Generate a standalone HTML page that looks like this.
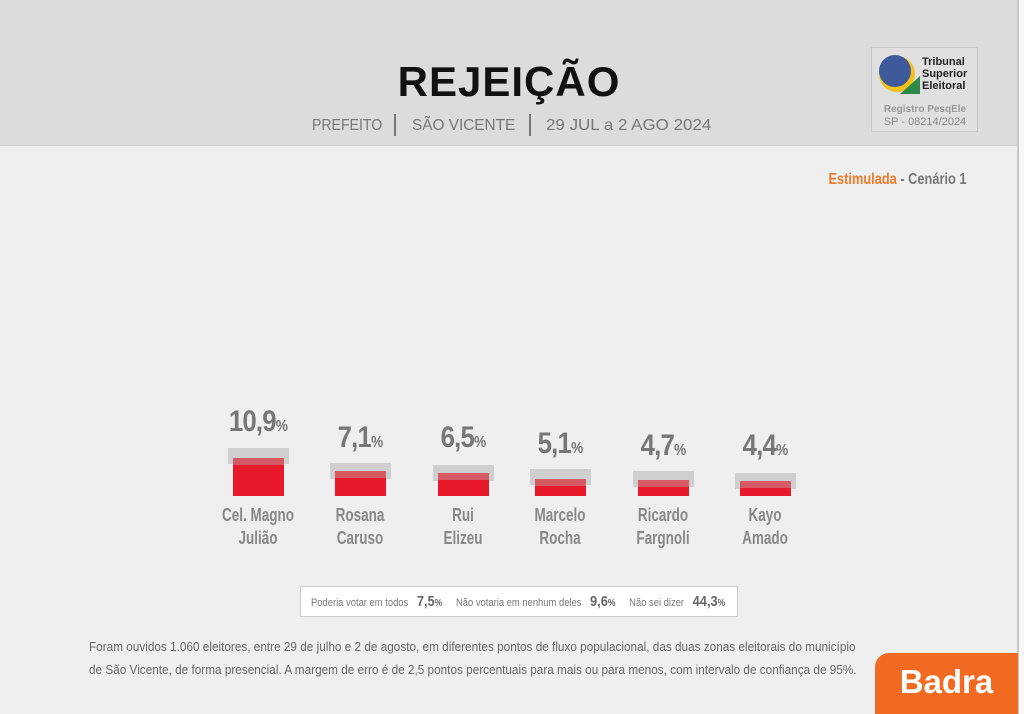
<!DOCTYPE html>
<html><head><meta charset="utf-8"><style>
*{margin:0;padding:0;box-sizing:border-box}
body{width:1024px;height:714px;background:#f8f8f8;position:relative;overflow:hidden;font-family:"Liberation Sans",sans-serif}
.abs{position:absolute}
.hdr{left:0;top:0;width:1018px;height:146px;background:#dcdcdc;border-bottom:1px solid #d0d0d0}
.main{left:0;top:146px;width:1018px;height:568px;background:#efefef}
.vline{left:1017px;top:0;width:2px;height:714px;background:#c8c8c8}
.title{left:0;width:1018px;top:58px;text-align:center;font:bold 42px "Liberation Sans",sans-serif;color:#111;letter-spacing:1px}
.sub{top:117px;font-size:16px;color:#777;transform-origin:left;white-space:nowrap}
.sep{top:114px;width:2px;height:22px;background:#777}
.gray{background:#cfcfcf;width:61px;height:16px}
.red{background:#e8192a;width:51px}
.redt{background:#d65a63;width:51px;height:7px}
.val{width:100px;text-align:center;color:#777;font-weight:bold;font-size:30px;letter-spacing:-1px;transform:scaleX(0.86)}
.val small{font-size:16px}
.nm{width:120px;text-align:center;color:#888;font-size:18px;line-height:23px;font-weight:bold;transform:scaleX(0.75)}
.foot{left:89px;font-size:13px;color:#666;white-space:nowrap;transform:scaleX(0.905);transform-origin:left}
</style></head><body>
<div class="abs hdr"></div>
<div class="abs main"></div>
<div class="abs vline"></div>
<div class="abs title">REJEIÇÃO</div>
<div class="abs sub" style="left:312px;transform:scaleX(0.88)">PREFEITO</div>
<div class="abs sep" style="left:394px"></div>
<div class="abs sub" style="left:412px;transform:scaleX(0.96)">SÃO VICENTE</div>
<div class="abs sep" style="left:529px"></div>
<div class="abs sub" style="left:546px;transform:scaleX(1.06)">29 JUL a 2 AGO 2024</div>

<div class="abs" style="left:871px;top:47px;width:107px;height:85px;border:1px solid #c8c8c8;background:#e0e0e0"></div>
<div class="abs" style="left:879px;top:56px;width:36px;height:36px;border-radius:50%;background:#f2c21a"></div>
<div class="abs" style="left:900px;top:76px;width:20px;height:18px;background:#2f8a4a;clip-path:polygon(100% 0,100% 100%,0 100%)"></div>
<div class="abs" style="left:879px;top:55px;width:32px;height:32px;border-radius:50%;background:#3f5a9a"></div>
<div class="abs" style="left:922px;top:56px;font:bold 11px/12px 'Liberation Sans',sans-serif;color:#222">Tribunal<br>Superior<br>Eleitoral</div>
<div class="abs" style="left:876px;top:104px;width:98px;text-align:center;font:bold 10px 'Liberation Sans',sans-serif;color:#999">Registro PesqEle</div>
<div class="abs" style="left:876px;top:116px;width:98px;text-align:center;font:11px 'Liberation Sans',sans-serif;color:#888">SP - 08214/2024</div>

<div class="abs" style="right:58px;top:171px;font-size:16px;font-weight:bold;color:#777;transform:scaleX(0.8);transform-origin:right;white-space:nowrap"><span style="color:#f07a2c">Estimulada</span> - Cenário 1</div>

<div class="abs val" style="left:208px;top:405px">10,9<small>%</small></div>
<div class="abs gray" style="left:228px;top:448px"></div>
<div class="abs red" style="left:233px;top:458px;height:38px"></div><div class="abs redt" style="left:233px;top:458px"></div>
<div class="abs nm" style="left:198px;top:504px">Cel. Magno<br>Julião</div>

<div class="abs val" style="left:310px;top:421px">7,1<small>%</small></div>
<div class="abs gray" style="left:330px;top:463px"></div>
<div class="abs red" style="left:335px;top:471px;height:25px"></div><div class="abs redt" style="left:335px;top:471px"></div>
<div class="abs nm" style="left:300px;top:504px">Rosana<br>Caruso</div>

<div class="abs val" style="left:413px;top:421px">6,5<small>%</small></div>
<div class="abs gray" style="left:433px;top:465px"></div>
<div class="abs red" style="left:438px;top:473px;height:23px"></div><div class="abs redt" style="left:438px;top:473px"></div>
<div class="abs nm" style="left:403px;top:504px">Rui<br>Elizeu</div>

<div class="abs val" style="left:510px;top:427px">5,1<small>%</small></div>
<div class="abs gray" style="left:530px;top:469px"></div>
<div class="abs red" style="left:535px;top:479px;height:17px"></div><div class="abs redt" style="left:535px;top:479px"></div>
<div class="abs nm" style="left:500px;top:504px">Marcelo<br>Rocha</div>

<div class="abs val" style="left:613px;top:429px">4,7<small>%</small></div>
<div class="abs gray" style="left:633px;top:471px"></div>
<div class="abs red" style="left:638px;top:480px;height:16px"></div><div class="abs redt" style="left:638px;top:480px"></div>
<div class="abs nm" style="left:603px;top:504px">Ricardo<br>Fargnoli</div>

<div class="abs val" style="left:715px;top:429px">4,4<small>%</small></div>
<div class="abs gray" style="left:735px;top:473px"></div>
<div class="abs red" style="left:740px;top:481px;height:15px"></div><div class="abs redt" style="left:740px;top:481px"></div>
<div class="abs nm" style="left:705px;top:504px">Kayo<br>Amado</div>

<div class="abs" style="left:300px;top:586px;width:438px;height:31px;background:#fff;border:1px solid #ccc"></div>
<div class="abs" style="left:311px;top:593px;font-size:11px;color:#777;white-space:nowrap;transform:scaleX(0.855);transform-origin:left">Poderia votar em todos <b style="font-size:15px;color:#666;margin:0 16px 0 7px">7,5<small style="font-size:10px">%</small></b>Não votaria em nenhum deles <b style="font-size:15px;color:#666;margin:0 16px 0 7px">9,6<small style="font-size:10px">%</small></b>Não sei dizer <b style="font-size:15px;color:#666;margin-left:7px">44,3<small style="font-size:10px">%</small></b></div>

<div class="abs foot" style="top:639px">Foram ouvidos 1.060 eleitores, entre 29 de julho e 2 de agosto, em diferentes pontos de fluxo populacional, das duas zonas eleitorais do município</div>
<div class="abs foot" style="top:662px">de São Vicente, de forma presencial. A margem de erro é de 2,5 pontos percentuais para mais ou para menos, com intervalo de confiança de 95%.</div>

<div class="abs" style="left:875px;top:653px;width:143px;height:61px;background:#f26a22;border-top-left-radius:14px;color:#fff;font:bold 33px 'Liberation Sans',sans-serif;text-align:center;padding-top:10px">Badra</div>
</body></html>
